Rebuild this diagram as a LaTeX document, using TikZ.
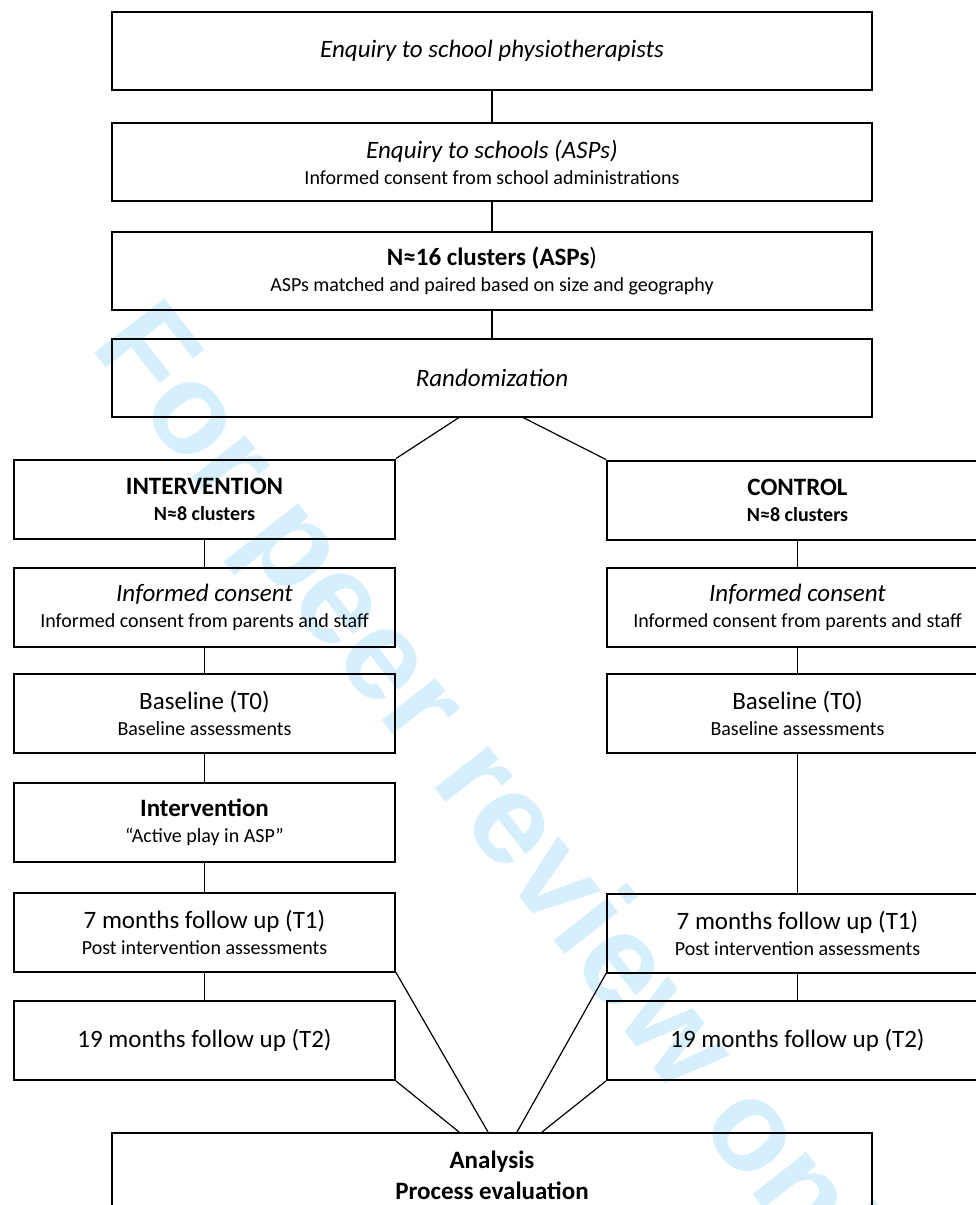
\documentclass[tikz,border=0pt]{standalone}
\usepackage{fontspec}
\setmainfont{Carlito}
\newfontfamily\markfont{Liberation Sans}
\newcommand{\lgtext}{\fontsize{25}{30}\selectfont}
\newcommand{\smtext}{\fontsize{20}{24}\selectfont}
\definecolor{markblue}{RGB}{214,239,252}

\begin{document}
\begin{tikzpicture}[x=1pt,y=-1pt,
    stage/.style={draw,line width=2pt,minimum width=760pt,minimum height=78pt,inner sep=0pt,align=center,font=\smtext},
    arm/.style={stage,minimum width=381pt,minimum height=79pt},
    link/.style={line width=1.2pt},
    watermark/.style={text=markblue,font=\markfont\bfseries\fontsize{129}{129}\selectfont,rotate=-52}]
    \useasboundingbox (0,0) rectangle (976,1205);
    \clip (0,0) rectangle (976,1205);
    % watermark behind the chart
    \node[watermark] (wm) at (502,820) {For peer review only};

    % recruitment and randomization
    \node[stage] (enq) at (492,51) {\lgtext\itshape Enquiry to school physiotherapists};
    \node[stage] (sch) at (492,162) {{\lgtext\itshape Enquiry to schools (ASPs)}\\[2pt] Informed consent from school administrations};
    \node[stage] (clu) at (492,271) {{\lgtext\bfseries N≈16 clusters (ASPs}{\lgtext)}\\[2pt] ASPs matched and paired based on size and geography};
    \node[stage] (rnd) at (492,377.5) {\lgtext\itshape Randomization};

    % intervention arm
    \node[arm] (int) at (204.5,499) {{\lgtext\bfseries INTERVENTION}\\[2pt]\bfseries N≈8 clusters};
    \node[arm] (icl) at (204.5,607) {{\lgtext\itshape Informed consent}\\[2pt] Informed consent from parents and staff};
    \node[arm] (bll) at (204.5,713.5) {{\lgtext Baseline (T0)}\\[2pt] Baseline assessments};
    \node[arm] (act) at (204.5,822) {{\lgtext\bfseries Intervention}\\[2pt] “Active play in ASP”};
    \node[arm] (t1l) at (204.5,932) {{\lgtext 7 months follow up (T1)}\\[2pt] Post intervention assessments};
    \node[arm] (t2l) at (204.5,1040.5) {\lgtext 19 months follow up (T2)};

    % control arm
    \node[arm] (ctl) at (797.5,500) {{\lgtext\bfseries CONTROL}\\[2pt]\bfseries N≈8 clusters};
    \node[arm] (icr) at (797.5,607) {{\lgtext\itshape Informed consent}\\[2pt] Informed consent from parents and staff};
    \node[arm] (blr) at (797.5,713.5) {{\lgtext Baseline (T0)}\\[2pt] Baseline assessments};
    \node[arm] (t1r) at (797.5,933) {{\lgtext 7 months follow up (T1)}\\[2pt] Post intervention assessments};
    \node[arm] (t2r) at (797.5,1040.5) {\lgtext 19 months follow up (T2)};

    \node[stage,anchor=north,minimum height=85pt,font=\lgtext\bfseries] (ana) at (492,1132) {Analysis\\[1pt] Process evaluation};

    % connectors
    \draw[link] (enq) -- (sch);
    \draw[link] (sch) -- (clu);
    \draw[link] (clu) -- (rnd);
    \draw[link] ([xshift=-33pt]rnd.south) -- (int.north east);
    \draw[link] ([xshift=31pt]rnd.south) -- (ctl.north west);
    \foreach \a/\b in {int/icl,icl/bll,bll/act,act/t1l,t1l/t2l,ctl/icr,icr/blr,blr/t1r,t1r/t2r}
        \draw[link] (\a) -- (\b);
    \draw[link] (t1l.south east) -- ([xshift=-4pt]ana.north);
    \draw[link] (t2l.south east) -- ([xshift=-33pt]ana.north);
    \draw[link] (t1r.south west) -- ([xshift=25pt]ana.north);
    \draw[link] (t2r.south west) -- ([xshift=50pt]ana.north);
\end{tikzpicture}
\end{document}
